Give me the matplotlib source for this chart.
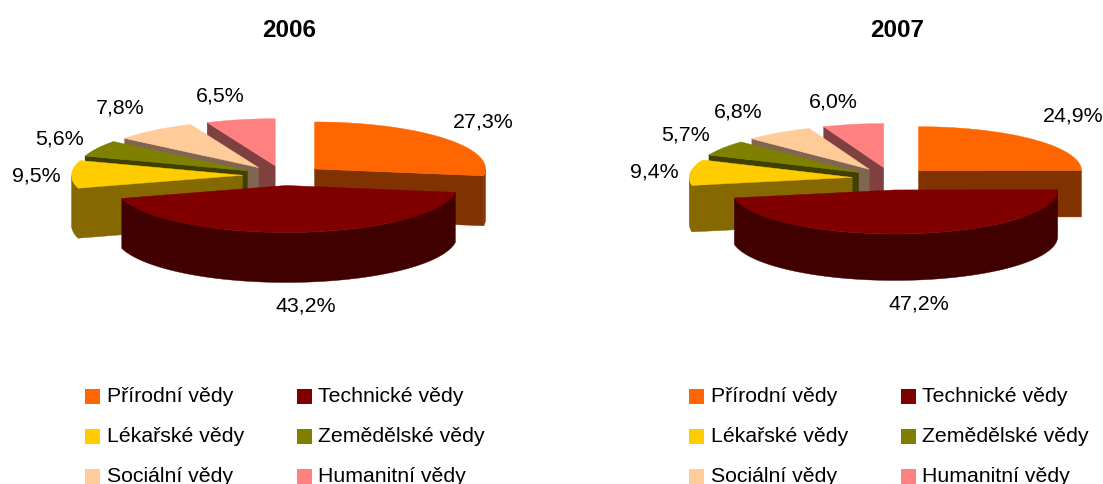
import numpy as np
import matplotlib
matplotlib.use('Agg')
import matplotlib.pyplot as plt
from matplotlib.patches import Polygon, Rectangle

plt.rcParams['font.family'] = ['Liberation Sans', 'DejaVu Sans']

# Chart data
categories = ['Přírodní vědy', 'Technické vědy', 'Lékařské vědy',
              'Zemědělské vědy', 'Sociální vědy', 'Humanitní vědy']
years = ['2006', '2007']
values_2006 = [27.3, 43.2, 9.5, 5.6, 7.8, 6.5]
values_2007 = [24.9, 47.2, 9.4, 5.7, 6.8, 6.0]

top_colors = ['#FF6600', '#800000', '#FFCC00', '#808000', '#FFCC99', '#FF8080']
side_colors = ['#803300', '#400000', '#856900', '#404000', '#806650', '#804040']

# Layout in pixels of the figure
WIDTH, HEIGHT = 1103, 485
layout_2006 = dict(cx=283.5, cy=176.5, rx=171, ry=47, depth=50, ex=41, ey=10, title_x=289,
                   legend_dx=0,
                   labels=[(483, 122.5), (306, 306.5), (36, 176.5), (60, 139.5), (120, 107.5), (220, 96.5)])
layout_2007 = dict(cx=891, cy=179.7, rx=163, ry=44, depth=46.5, ex=39, ey=11.3, title_x=897,
                   legend_dx=604,
                   labels=[(1073, 116.5), (919, 304.5), (654, 172.5), (686, 135.5), (738, 112.5), (833, 101.5)])
legend_cols = [(85, 107), (297, 318)]
legend_rows = [397, 437, 477]


def arc_points(ax_x, ax_y, rx, ry, t1, t2):
    # angles are in degrees, clockwise from 12 o'clock
    t = np.radians(np.linspace(t1, t2, max(int(abs(t2 - t1)), 2)))
    return np.column_stack([ax_x + rx * np.sin(t), ax_y - ry * np.cos(t)])


def draw_slice(ax, x0, y0, t1, t2, p, top, side):
    d = np.array([0, p['depth']])
    rx, ry = p['rx'], p['ry']
    apex = np.array([x0, y0])

    # radial faces which look to the viewer
    for t, visible in ((t1, np.sin(np.radians(t1)) < 0), (t2, np.sin(np.radians(t2)) > 0)):
        if visible:
            rim = arc_points(x0, y0, rx, ry, t, t)[0]
            ax.add_patch(Polygon([apex, rim, rim + d, apex + d], fc=side, ec=side, lw=0.3))

    # outer wall on the front half
    a, b = max(t1, 90), min(t2, 270)
    if a < b:
        arc = arc_points(x0, y0, rx, ry, a, b)
        ax.add_patch(Polygon(np.vstack([arc, arc[::-1] + d]), fc=side, ec=side, lw=0.3))

    # top surface
    rim = arc_points(x0, y0, rx, ry, t1, t2)
    ax.add_patch(Polygon(np.vstack([apex, rim]), fc=top, ec=top, lw=0.3))


def draw_pie(ax, values, year, p):
    total = sum(values)
    angles = np.concatenate([[0], np.cumsum(values)]) / total * 360

    # back slices first, the big front one goes last
    order = [5, 4, 3, 2, 0, 1]
    for i in order:
        t1, t2 = angles[i], angles[i + 1]
        mid = np.radians((t1 + t2) / 2)
        x0 = p['cx'] + p['ex'] * np.sin(mid)
        y0 = p['cy'] - p['ey'] * np.cos(mid)
        draw_slice(ax, x0, y0, t1, t2, p, top_colors[i], side_colors[i])

    for v, (lx, ly) in zip(values, p['labels']):
        ax.text(lx, ly, f'{v:.1f}%'.replace('.', ','), ha='center', va='center',
                fontsize=15.4, color='black')

    ax.text(p['title_x'], 30.5, year, ha='center', va='center', fontsize=17.5,
            fontweight='bold', color='black')

    # legend, two columns and three rows
    for i, name in enumerate(categories):
        sq_x, txt_x = legend_cols[i % 2]
        y = legend_rows[i // 2]
        ax.add_patch(Rectangle((sq_x + p['legend_dx'], y - 7.5), 15, 15,
                               fc=top_colors[i], ec='none'))
        ax.text(txt_x + p['legend_dx'], y, name, ha='left', va='center',
                fontsize=15.3, color='black')


fig = plt.figure(figsize=(WIDTH / 100, HEIGHT / 100), dpi=100)
ax = fig.add_axes([0, 0, 1, 1])
ax.set_xlim(0, WIDTH)
ax.set_ylim(HEIGHT, 0)
ax.axis('off')

draw_pie(ax, values_2006, years[0], layout_2006)
draw_pie(ax, values_2007, years[1], layout_2007)

fig.savefig('out.png', dpi=100)
plt.close(fig)
